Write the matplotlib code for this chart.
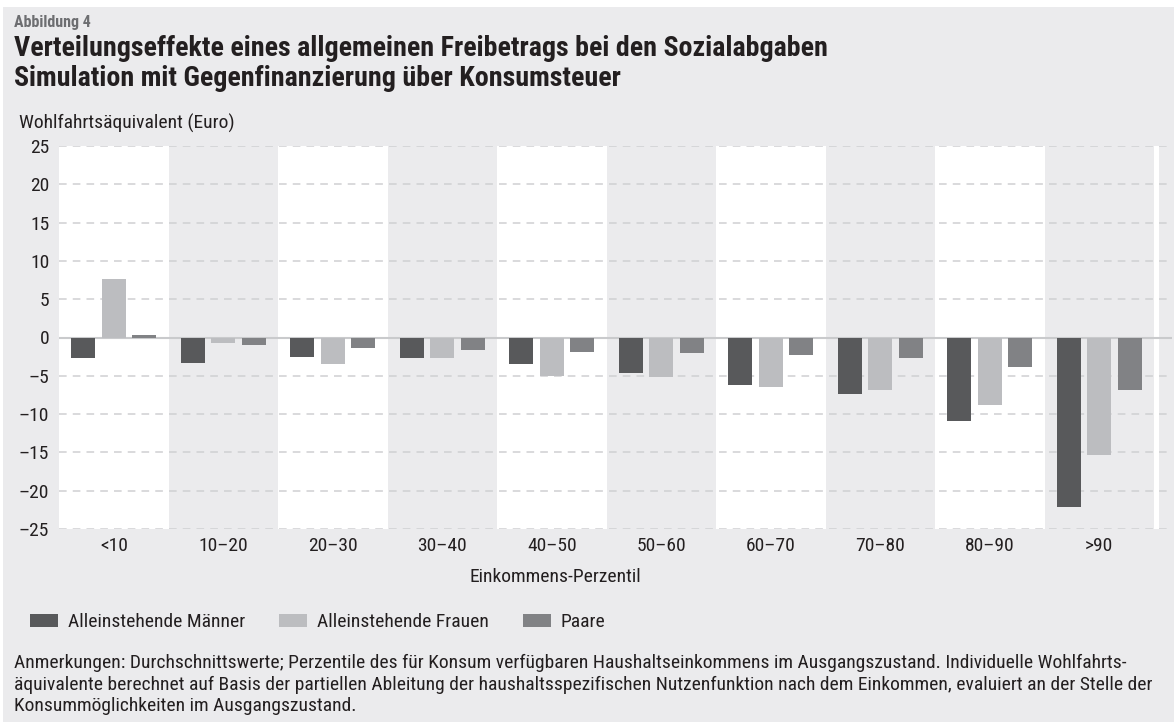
import matplotlib
matplotlib.use("Agg")
import matplotlib.pyplot as plt
from matplotlib.patches import Rectangle
import numpy as np

plt.rcParams['font.family'] = ['Roboto Condensed', 'Archivo Narrow', 'DejaVu Sans']

categories = ["<10", "10–20", "20–30", "30–40", "40–50", "50–60", "60–70", "70–80", "80–90", ">90"]
maenner = [-2.7, -3.3, -2.5, -2.7, -3.4, -4.6, -6.2, -7.4, -10.9, -22.1]
frauen = [7.6, -0.7, -3.4, -2.7, -5.0, -5.1, -6.4, -6.8, -8.8, -15.3]
paare = [0.3, -1.0, -1.35, -1.6, -1.9, -2.0, -2.3, -2.7, -3.8, -6.8]
series_names = ["Alleinstehende Männer", "Alleinstehende Frauen", "Paare"]
colors = ["#58595b", "#bcbdc0", "#818285"]
yticks = [-25, -20, -15, -10, -5, 0, 5, 10, 15, 20, 25]

W, H = 1174, 722
fig = plt.figure(figsize=(W / 100, H / 100), dpi=100)
fig.patch.set_facecolor("white")
bg = "#ebebed"
fig.patches.append(Rectangle((3 / W, 0), 1 - 3 / W, (H - 7) / H, transform=fig.transFigure,
                             facecolor=bg, edgecolor="none", zorder=-10))

def fx(px):
    return px / W

def fy(py):
    return 1 - py / H

ax = fig.add_axes([fx(59), fy(529), (1172 - 59) / W, (529 - 146) / H])
ax.set_facecolor(bg)
ax.patch.set_alpha(0)
x = np.arange(len(categories))
xmax = -0.5 + (1172 - 59) / 109.5
ax.set_xlim(-0.5, xmax)
ax.set_ylim(-25, 25)

for i in range(len(categories)):
    if i % 2 == 0:
        ax.axvspan(i - 0.5, i + 0.5, color="white", zorder=0, lw=0)
ax.axvspan(9.5, 9.55, color="white", zorder=0, lw=0)

for yv in yticks:
    if yv == 0:
        ax.axhline(0, color="#c9cacc", lw=1.5, zorder=1)
    else:
        ax.axhline(yv, color="#cfd0d2", lw=1.1, ls=(0, (5, 4)), zorder=1)

bw = 0.22
off = 0.277
handles = []
for k, (vals, c) in enumerate(zip([maenner, frauen, paare], colors)):
    b = ax.bar(x + (k - 1) * off, vals, width=bw, color=c, zorder=2, label=series_names[k])
    handles.append(b)

tc = "#231f20"
for s in ax.spines.values():
    s.set_visible(False)
ax.set_yticks(yticks)
ax.set_yticklabels([str(v).replace("-", "–") for v in yticks], fontsize=14, color=tc)
ax.set_xticks(x)
ax.set_xticklabels(categories, fontsize=14, color=tc)
ax.tick_params(axis="both", length=0)
ax.tick_params(axis="y", pad=7)
ax.tick_params(axis="x", pad=6)

fig.text(fx(14), fy(27), "Abbildung 4", fontsize=11.5, fontweight="bold", color="#6d6e71", va="baseline")
fig.text(fx(14), fy(56), "Verteilungseffekte eines allgemeinen Freibetrags bei den Sozialabgaben",
         fontsize=20.2, fontweight="bold", color=tc, va="baseline")
fig.text(fx(14), fy(86), "Simulation mit Gegenfinanzierung über Konsumsteuer",
         fontsize=20.2, fontweight="bold", color=tc, va="baseline")
fig.text(fx(19), fy(129), "Wohlfahrtsäquivalent (Euro)", fontsize=14, color=tc, va="baseline")
fig.text(fx(555), fy(582), "Einkommens-Perzentil", fontsize=14, color=tc, va="baseline", ha="center")

leg = fig.legend(handles=handles, labels=series_names, loc="center left",
                 bbox_to_anchor=(fx(22), fy(622)), ncol=3, frameon=False, fontsize=14,
                 handlelength=1.45, handleheight=0.65, handletextpad=0.5, columnspacing=1.75,
                 borderaxespad=0, labelcolor=tc)

notes = [
    "Anmerkungen: Durchschnittswerte; Perzentile des für Konsum verfügbaren Haushaltseinkommens im Ausgangszustand. Individuelle Wohlfahrts-",
    "äquivalente berechnet auf Basis der partiellen Ableitung der haushaltsspezifischen Nutzenfunktion nach dem Einkommen, evaluiert an der Stelle der",
    "Konsummöglichkeiten im Ausgangszustand.",
]
for j, line in enumerate(notes):
    fig.text(fx(14), fy(668 + j * 21.5), line, fontsize=14.0, color=tc, va="baseline")

fig.savefig("out.png", dpi=100, facecolor=fig.get_facecolor())
